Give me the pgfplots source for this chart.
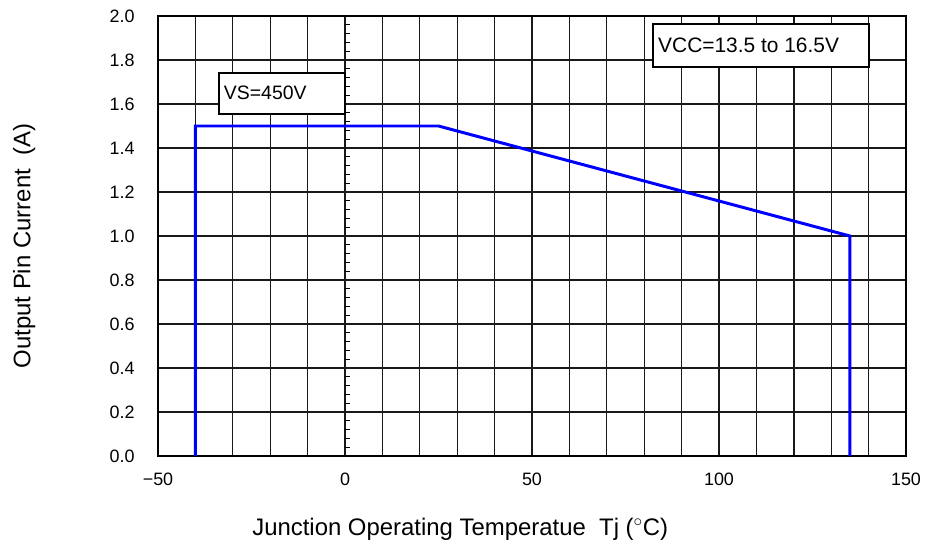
\documentclass[border=0pt]{standalone}
\usepackage{pgfplots}
\pgfplotsset{compat=1.18}
\usepackage{fontspec}
\setmainfont{Liberation Sans}
\begin{document}
\begin{tikzpicture}
\begin{axis}[
    at={(0,0)}, anchor=south west,
    scale only axis, width=748bp, height=440bp,
    xmin=-50, xmax=150, ymin=0, ymax=2,
    xtick={-50,0,50,100,150},
    xticklabels={−50,0,50,100,150},
    minor x tick num=4,
    ytick={0,0.2,0.4,0.6,0.8,1.0,1.2,1.4,1.6,1.8,2.0},
    grid=both,
    major grid style={black!90, line width=1.4pt},
    minor grid style={black!90, line width=1.4pt},
    axis line style={line width=2.6pt},
    major tick length=0pt, minor tick length=0pt,
    /pgf/number format/assume math mode=true,
    yticklabel style={/pgf/number format/fixed, /pgf/number format/fixed zerofill,
      /pgf/number format/precision=1,
      font=\fontsize{18}{21}\selectfont, xshift=-20bp},
    xticklabel style={font=\fontsize{18}{21}\selectfont, yshift=-13bp},
    xlabel={Junction Operating Temperatue \ Tj (${}^{\circ}$C)},
    ylabel={Output Pin Current \ (A)},
    label style={font=\fontsize{24}{28}\selectfont},
    xlabel style={at={(axis description cs:0.404,0)}, anchor=base, yshift=-79bp},
    ylabel style={at={(axis description cs:-0.179,0.477)}, anchor=center},
    clip=false,
]
% minor ticks on the x = 0 line
\pgfplotsinvokeforeach{0.04,0.08,0.12,0.16,0.24,0.28,0.32,0.36,0.44,0.48,0.52,0.56,
  0.64,0.68,0.72,0.76,0.84,0.88,0.92,0.96,1.04,1.08,1.12,1.16,1.24,1.28,1.32,1.36,
  1.44,1.48,1.52,1.56,1.64,1.68,1.72,1.76,1.84,1.88,1.92,1.96}{
  \draw[black, line width=1.3pt] (axis cs:0,#1) -- ([xshift=5bp]axis cs:0,#1);
}
\draw[black, line width=1.4pt, fill=white] (axis cs:-33.7,1.555) rectangle (axis cs:0,1.741);
\node[anchor=west, font=\fontsize{19.5}{22}\selectfont] at (axis cs:-33.3,1.650) {VS=450V};
\draw[black, line width=1.4pt, fill=white] (axis cs:82.4,1.768) rectangle (axis cs:140.1,1.964);
\node[anchor=west, font=\fontsize{21}{24}\selectfont] at (axis cs:82.8,1.868) {VCC=13.5 to 16.5V};
\addplot[blue, line width=3pt, line join=miter] coordinates {
  (-40,0) (-40,1.5) (25,1.5) (135,1.0) (135,0)
};
\end{axis}
\pgfresetboundingbox
\path (-158bp,-89bp) rectangle (769bp,456bp);
\end{tikzpicture}
\end{document}
